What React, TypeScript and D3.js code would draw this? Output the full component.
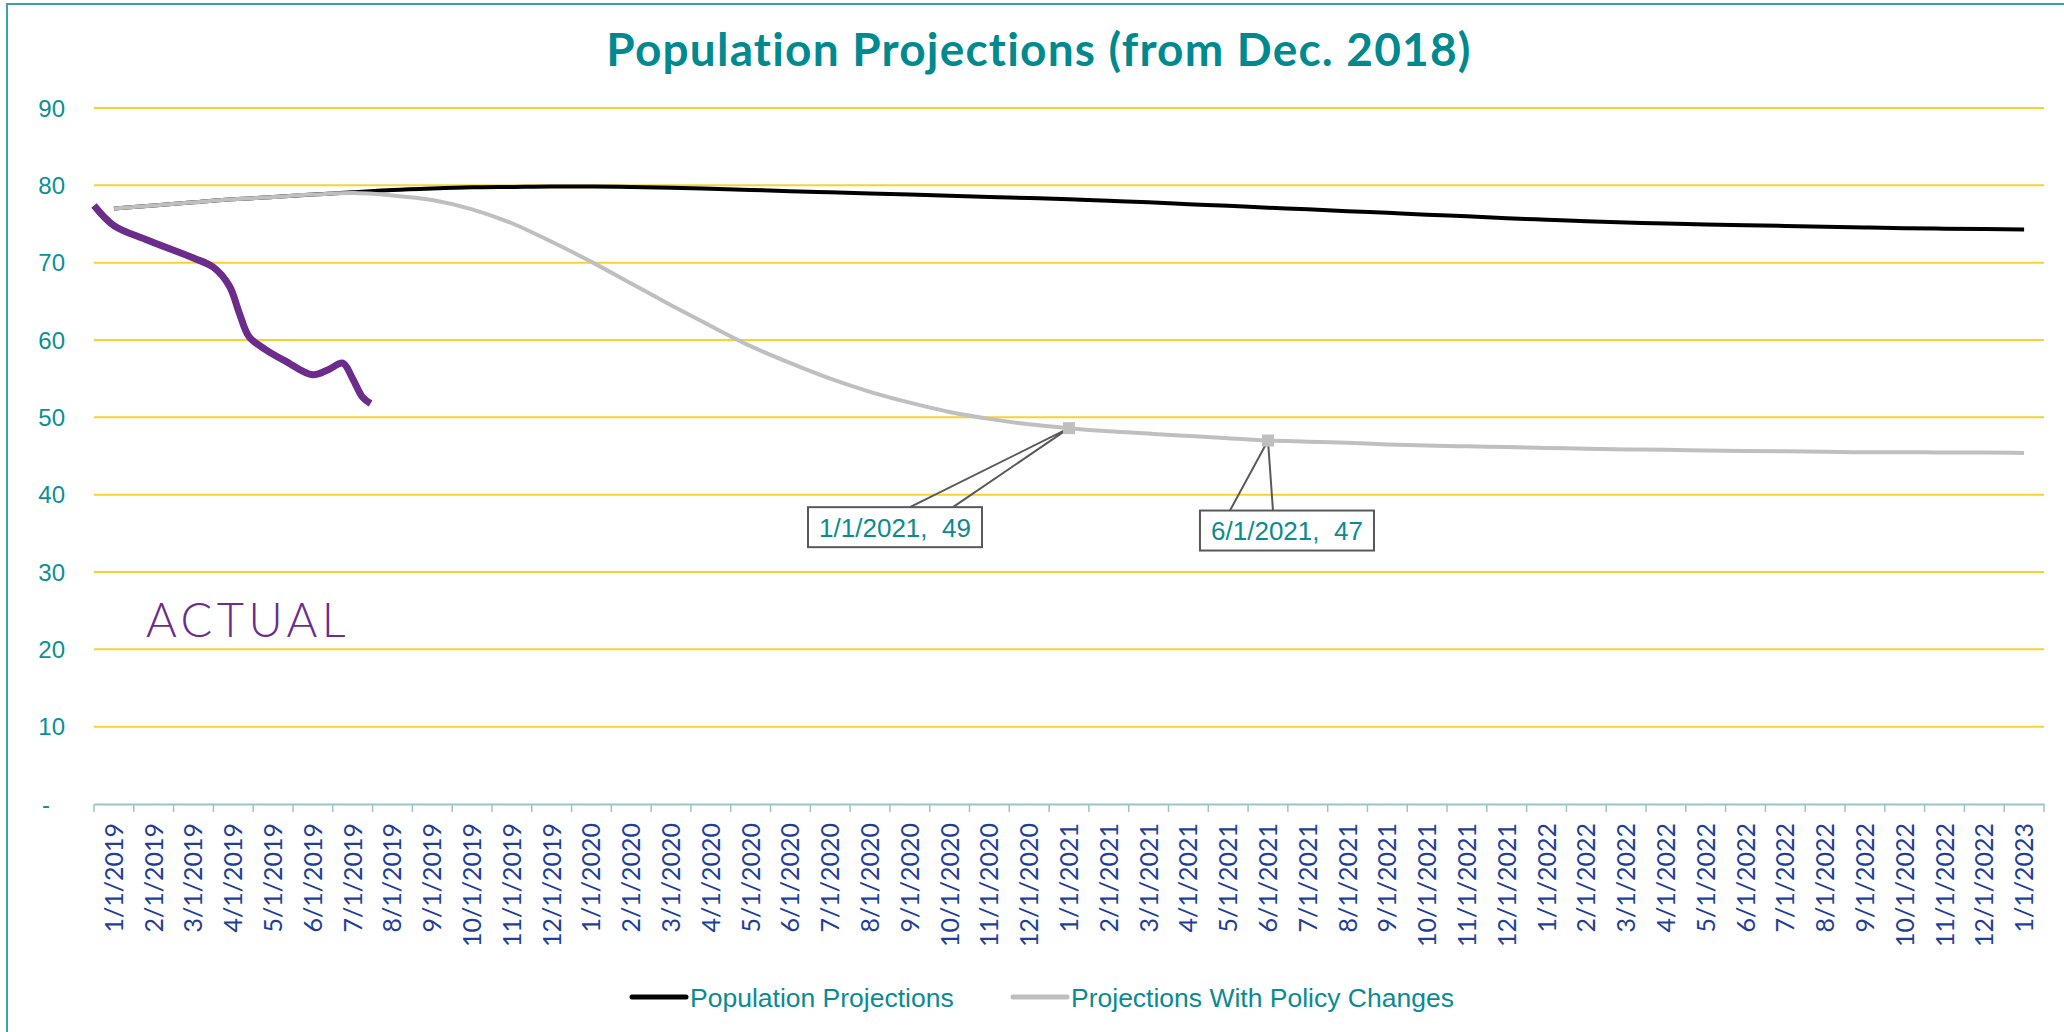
import React, { useRef, useEffect } from "react"
import * as d3 from "d3"

const months = [
  "1/1/2019", "2/1/2019", "3/1/2019", "4/1/2019", "5/1/2019", "6/1/2019",
  "7/1/2019", "8/1/2019", "9/1/2019", "10/1/2019", "11/1/2019", "12/1/2019",
  "1/1/2020", "2/1/2020", "3/1/2020", "4/1/2020", "5/1/2020", "6/1/2020",
  "7/1/2020", "8/1/2020", "9/1/2020", "10/1/2020", "11/1/2020", "12/1/2020",
  "1/1/2021", "2/1/2021", "3/1/2021", "4/1/2021", "5/1/2021", "6/1/2021",
  "7/1/2021", "8/1/2021", "9/1/2021", "10/1/2021", "11/1/2021", "12/1/2021",
  "1/1/2022", "2/1/2022", "3/1/2022", "4/1/2022", "5/1/2022", "6/1/2022",
  "7/1/2022", "8/1/2022", "9/1/2022", "10/1/2022", "11/1/2022", "12/1/2022",
  "1/1/2023",
]

// Population Projections (black)
const projections = [
  77.0, 77.4, 77.8, 78.2, 78.5, 78.8, 79.1, 79.4, 79.6, 79.75, 79.8, 79.85,
  79.85, 79.8, 79.7, 79.55, 79.4, 79.25, 79.1, 78.95, 78.8, 78.65, 78.5, 78.35,
  78.2, 78.0, 77.8, 77.55, 77.35, 77.1, 76.9, 76.65, 76.45, 76.2, 76.0, 75.75,
  75.55, 75.35, 75.2, 75.05, 74.95, 74.85, 74.75, 74.65, 74.55, 74.45, 74.4, 74.35,
  74.3,
]

// Projections With Policy Changes (gray)
const policyProjections = [
  77.0, 77.4, 77.8, 78.2, 78.5, 78.8, 79.0, 78.7, 78.1, 76.9, 75.1, 72.7,
  70.1, 67.3, 64.5, 61.8, 59.2, 57.0, 55.0, 53.3, 51.9, 50.7, 49.8, 49.1,
  48.6, 48.2, 47.9, 47.6, 47.3, 47.0, 46.85, 46.7, 46.5, 46.35, 46.25, 46.15,
  46.05, 45.95, 45.85, 45.8, 45.7, 45.65, 45.6, 45.55, 45.5, 45.5, 45.45, 45.45,
  45.4,
]

// hand drawn "ACTUAL" line, position in months from 1/1/2019
const actualMonth = [-0.5, 0, 0.8, 2.0, 2.5, 2.9, 3.15, 3.4, 3.8, 4.3, 5.0, 5.4, 5.75, 6.0, 6.25, 6.45]
const actualValues = [77.4, 74.8, 73.0, 70.6, 69.4, 67.0, 63.5, 60.4, 58.8, 57.3, 55.5, 56.2, 57.0, 55.0, 52.6, 51.8]

const yTicks = [0, 10, 20, 30, 40, 50, 60, 70, 80, 90]
const yTickLabels = ["-", "10", "20", "30", "40", "50", "60", "70", "80", "90"]

const calloutMonths = ["1/1/2021", "6/1/2021"]
const calloutDx = [-174, 19]
const calloutDy = [99, 90]
const calloutBase = [[15, 58], [-57, -14]]

const seriesNames = ["Population Projections", "Projections With Policy Changes"]
const seriesColors = ["#000000", "#bfbfbf"]

const W = 2064
const H = 1032
const teal = "#0a8b90"

function App() {
  const ref = useRef(null)

  useEffect(() => {
    draw_chart()
  }, [])

  function draw_chart() {
    const svg = d3.select(ref.current)
    svg.selectAll("*").remove()

    const margin = { top: 108, left: 94, right: 20, bottom: 228 }
    const x = d3
      .scaleBand()
      .domain(months)
      .range([margin.left, W - margin.right])
      .padding(0)
    const bw = x.bandwidth()
    const cx = m => x(m) + bw / 2
    const xi = d3
      .scaleLinear()
      .domain([0, months.length - 1])
      .range([cx(months[0]), cx(months[months.length - 1])])
    const y = d3
      .scaleLinear()
      .domain([0, 90])
      .range([H - margin.bottom, margin.top])

    // outer border
    svg
      .append("rect")
      .attr("x", 7)
      .attr("y", 4)
      .attr("width", W + 20)
      .attr("height", H + 20)
      .attr("fill", "white")
      .attr("stroke", "#3ba3aa")
      .attr("stroke-width", 2)

    svg
      .append("text")
      .attr("x", 1039)
      .attr("y", 66)
      .attr("text-anchor", "middle")
      .attr("fill", "#008a90")
      .style("font-family", "Lato, 'Open Sans', sans-serif")
      .style("font-weight", 700)
      .style("font-size", "46px")
      .style("letter-spacing", "1.2px")
      .text("Population Projections (from Dec. 2018)")

    // gridlines
    svg
      .append("g")
      .selectAll("line")
      .data(yTicks.filter(d => d > 0))
      .join("line")
      .attr("x1", x.range()[0])
      .attr("x2", x.range()[1])
      .attr("y1", d => y(d))
      .attr("y2", d => y(d))
      .attr("stroke", "#f8d230")
      .attr("stroke-width", 2)

    // y labels
    svg
      .append("g")
      .selectAll("text")
      .data(yTicks)
      .join("text")
      .attr("x", d => (d === 0 ? 50 : 65))
      .attr("y", d => y(d))
      .attr("dy", "0.36em")
      .attr("text-anchor", "end")
      .attr("fill", "#0a9096")
      .style("font-family", "'Liberation Sans', Arial, sans-serif")
      .style("font-size", "24px")
      .text((d, i) => yTickLabels[i])

    // x axis
    const xAxis = svg
      .append("g")
      .attr("transform", `translate(0, ${y(0)})`)
      .call(
        d3
          .axisBottom(x)
          .tickSize(0)
          .tickFormat(() => "")
      )
    xAxis.select(".domain").attr("stroke", "#9cc4c8").attr("stroke-width", 2)
    xAxis.selectAll(".tick").remove()
    xAxis
      .selectAll("line.sep")
      .data(months.concat(["end"]))
      .join("line")
      .attr("class", "sep")
      .attr("x1", (d, i) => (i < months.length ? x(d) : x.range()[1]))
      .attr("x2", (d, i) => (i < months.length ? x(d) : x.range()[1]))
      .attr("y1", 0)
      .attr("y2", 8)
      .attr("stroke", "#9cc4c8")
      .attr("stroke-width", 1.5)

    svg
      .append("g")
      .selectAll("text")
      .data(months)
      .join("text")
      .attr("transform", d => `translate(${cx(d)}, ${y(0) + 19}) rotate(-90)`)
      .attr("dy", "0.36em")
      .attr("text-anchor", "end")
      .attr("fill", "#1f3e96")
      .style("font-family", "Lato, sans-serif")
      .style("font-size", "25px")
      .text(d => d)

    const line = d3
      .line()
      .x(d => d[0])
      .y(d => y(d[1]))
      .curve(d3.curveMonotoneX)

    const series = [projections, policyProjections]
    series.forEach((vals, k) => {
      svg
        .append("path")
        .datum(vals.map((v, i) => [cx(months[i]), v]))
        .attr("d", line)
        .attr("fill", "none")
        .attr("stroke", seriesColors[k])
        .attr("stroke-width", 4)
    })

    // actual line
    svg
      .append("path")
      .datum(actualMonth.map((m, i) => [xi(m), actualValues[i]]))
      .attr(
        "d",
        d3
          .line()
          .x(d => d[0])
          .y(d => y(d[1]))
          .curve(d3.curveCatmullRom.alpha(0.5))
      )
      .attr("fill", "none")
      .attr("stroke", "#6b2c8b")
      .attr("stroke-width", 7)

    svg
      .append("text")
      .attr("x", 146)
      .attr("y", 637)
      .attr("fill", "#6b2c8b")
      .style("font-family", "Lato, sans-serif")
      .style("font-weight", 300)
      .style("font-size", "47px")
      .style("letter-spacing", "4.5px")
      .text("ACTUAL")

    // callouts
    calloutMonths.forEach((m, k) => {
      const i = months.indexOf(m)
      const v = policyProjections[i]
      const px = cx(m)
      const py = y(v)
      const bx = px + calloutDx[k]
      const by = py + calloutDy[k]
      const bwid = 174
      const bh = 40
      svg
        .append("path")
        .attr(
          "d",
          `M${bx + calloutBase[k][0]},${by - bh / 2} L${px},${py} L${bx + calloutBase[k][1]},${by - bh / 2}`
        )
        .attr("fill", "none")
        .attr("stroke", "#595959")
        .attr("stroke-width", 2)
      svg
        .append("rect")
        .attr("x", bx - bwid / 2)
        .attr("y", by - bh / 2)
        .attr("width", bwid)
        .attr("height", bh)
        .attr("fill", "white")
        .attr("stroke", "#595959")
        .attr("stroke-width", 2)
      svg
        .append("rect")
        .attr("x", px - 6)
        .attr("y", py - 6)
        .attr("width", 12)
        .attr("height", 12)
        .attr("fill", "#bfbfbf")
      svg
        .append("text")
        .attr("x", bx)
        .attr("y", by)
        .attr("dy", "0.36em")
        .attr("text-anchor", "middle")
        .attr("fill", teal)
        .style("font-family", "'Liberation Sans', Arial, sans-serif")
        .style("font-size", "26px")
        .style("white-space", "pre")
        .text(`${m},  ${Math.round(v)}`)
    })

    // legend
    const legendX = [632, 1013]
    const legend = svg
      .append("g")
      .selectAll("g")
      .data(seriesNames)
      .join("g")
      .attr("transform", (d, i) => `translate(${legendX[i]}, 997)`)
    legend
      .append("line")
      .attr("x1", 0)
      .attr("x2", 54)
      .attr("stroke", (d, i) => seriesColors[i])
      .attr("stroke-width", 5)
      .attr("stroke-linecap", "round")
    legend
      .append("text")
      .attr("x", 58)
      .attr("dy", "0.36em")
      .attr("fill", teal)
      .style("font-family", "'Liberation Sans', Arial, sans-serif")
      .style("font-size", "26.5px")
      .text(d => d)
  }

  return (
    <div style={{ position: "absolute", left: 0, top: 0 }}>
      <svg ref={ref} width={W} height={H} style={{ display: "block" }}></svg>
    </div>
  )
}

export default App
